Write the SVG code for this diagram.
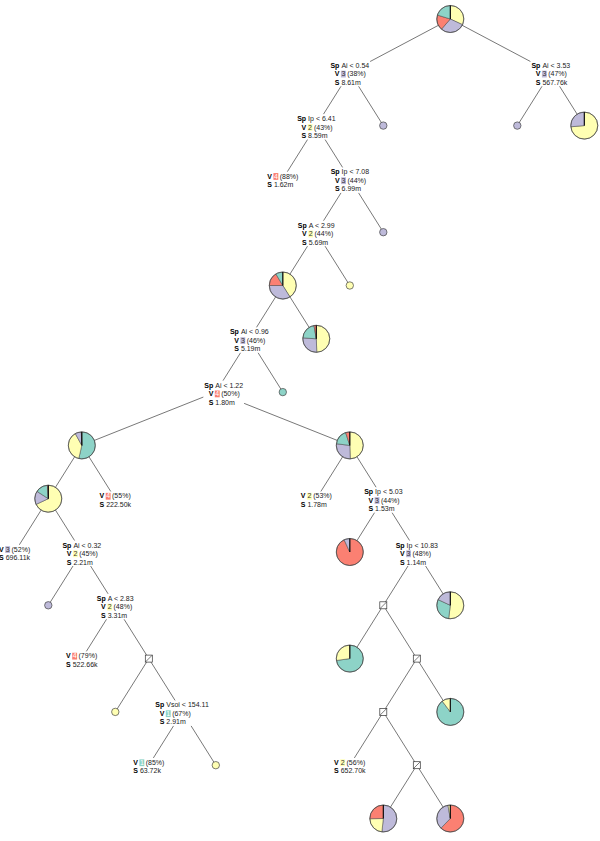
<svg xmlns="http://www.w3.org/2000/svg" width="600" height="841" viewBox="0 0 600 841">
<style>
.e{stroke:#555;stroke-width:0.8;fill:none}
text{font-family:"Liberation Sans",Arial,sans-serif;font-size:7px;fill:#222}
.k{font-weight:bold;text-anchor:end;fill:#000}
.bg{fill:#fff}
.c1{fill:#8dd3c7}.c2{fill:#ffffb3}.c3{fill:#bebada}.c4{fill:#fb8072}
.sl path{stroke:#444;stroke-width:0.5;stroke-linejoin:round}
.ring{fill:none;stroke:#444;stroke-width:0.7}
.top{stroke:#000;stroke-width:1}
.lf{stroke:#444;stroke-width:0.7}
.bx{fill:#fff;stroke:#333;stroke-width:0.7}
.dl{fill:#fff}.dd{fill:#333}
</style>
<g id="connectors">
<path class="e" d="M450.3 19L349.8 72.3M450.3 19L550.8 72.3M349.8 72.3L316.3 125.6M349.8 72.3L383.3 125.6M550.8 72.3L517.3 125.6M550.8 72.3L584.3 125.6M316.3 125.6L282.8 178.9M316.3 125.6L349.8 178.9M349.8 178.9L316.3 232.2M349.8 178.9L383.3 232.2M316.3 232.2L282.8 285.5M316.3 232.2L349.8 285.5M282.8 285.5L249.3 338.8M282.8 285.5L316.3 338.8M249.3 338.8L215.8 392.1M249.3 338.8L282.8 392.1M215.8 392.1L81.8 445.4M215.8 392.1L349.8 445.4M81.8 445.4L48.3 498.7M81.8 445.4L115.3 498.7M48.3 498.7L14.8 552M48.3 498.7L81.8 552M81.8 552L48.3 605.3M81.8 552L115.3 605.3M115.3 605.3L81.8 658.6M115.3 605.3L148.8 658.6M148.8 658.6L115.3 711.9M148.8 658.6L182.3 711.9M182.3 711.9L148.8 765.2M182.3 711.9L215.8 765.2M349.8 445.4L316.3 498.7M349.8 445.4L383.3 498.7M383.3 498.7L349.8 552M383.3 498.7L416.8 552M416.8 552L383.3 605.3M416.8 552L450.3 605.3M383.3 605.3L349.8 658.6M383.3 605.3L416.8 658.6M416.8 658.6L383.3 711.9M416.8 658.6L450.3 711.9M383.3 711.9L349.8 765.2M383.3 711.9L416.8 765.2M416.8 765.2L383.3 818.5M416.8 765.2L450.3 818.5"/>
</g>

<g id="root" class="sl">
<path class="c2" d="M450.3,19 L450.3,5.5 A13.5,13.5 0 0 1 462.54,24.71 Z"/>
<path class="c3" d="M450.3,19 L462.54,24.71 A13.5,13.5 0 0 1 441.44,29.19 Z"/>
<path class="c4" d="M450.3,19 L441.44,29.19 A13.5,13.5 0 0 1 437.39,15.05 Z"/>
<path class="c1" d="M450.3,19 L437.39,15.05 A13.5,13.5 0 0 1 450.3,5.5 Z"/>
<circle class="ring" cx="450.3" cy="19" r="13.5"/><line class="top" x1="450.3" y1="19" x2="450.3" y2="5.5"/>
</g>

<g id="nA">
<rect class="bg" x="329.4" y="60.8" width="40.75" height="25.5"/>
<rect class="c3" x="340.9" y="70.7" width="4.9" height="6.8"/>
<text class="k" x="339.4" y="67.8">Sp</text><text x="341.4" y="67.8">Ai &lt; 0.54</text>
<text class="k" x="339.4" y="76.3">V</text><text x="341.4" y="76.3"><tspan class="dd">3</tspan> (38%)</text>
<text class="k" x="339.4" y="84.8">S</text><text x="341.4" y="84.8">8.61m</text>
</g>

<g id="nAR">
<rect class="bg" x="530.4" y="60.8" width="40.75" height="25.5"/>
<rect class="c3" x="541.9" y="70.7" width="4.9" height="6.8"/>
<text class="k" x="540.4" y="67.8">Sp</text><text x="542.4" y="67.8">Ai &lt; 3.53</text>
<text class="k" x="540.4" y="76.3">V</text><text x="542.4" y="76.3"><tspan class="dd">3</tspan> (47%)</text>
<text class="k" x="540.4" y="84.8">S</text><text x="542.4" y="84.8">567.76k</text>
</g>

<g id="leafA"><circle class="c3 lf" cx="383.3" cy="125.6" r="3.7"/></g>
<g id="leafAR"><circle class="c3 lf" cx="517.3" cy="125.6" r="3.7"/></g>

<g id="pieAR" class="sl">
<path class="c2" d="M584.3,125.6 L584.3,112.1 A13.5,13.5 0 1 1 570.85,126.78 Z"/>
<path class="c3" d="M584.3,125.6 L570.85,126.78 A13.5,13.5 0 0 1 584.3,112.1 Z"/>
<circle class="ring" cx="584.3" cy="125.6" r="13.5"/><line class="top" x1="584.3" y1="125.6" x2="584.3" y2="112.1"/>
</g>

<g id="nB">
<rect class="bg" x="296.1" y="114.1" width="40.4" height="25.5"/>
<rect class="c2" x="307.6" y="124" width="4.9" height="6.8"/>
<text class="k" x="306.1" y="121.1">Sp</text><text x="308.1" y="121.1">Ip &lt; 6.41</text>
<text class="k" x="306.1" y="129.6">V</text><text x="308.1" y="129.6"><tspan class="dd">2</tspan> (43%)</text>
<text class="k" x="306.1" y="138.1">S</text><text x="308.1" y="138.1">8.59m</text>
</g>

<g id="nC">
<rect class="bg" x="266.2" y="171.65" width="33.2" height="17"/>
<rect class="c4" x="273.4" y="173.05" width="4.9" height="6.8"/>
<text class="k" x="271.9" y="178.65">V</text><text x="273.9" y="178.65"><tspan class="dl">4</tspan> (88%)</text>
<text class="k" x="271.9" y="187.15">S</text><text x="273.9" y="187.15">1.62m</text>
</g>

<g id="nD">
<rect class="bg" x="329.6" y="167.4" width="40.4" height="25.5"/>
<rect class="c3" x="341.1" y="177.3" width="4.9" height="6.8"/>
<text class="k" x="339.6" y="174.4">Sp</text><text x="341.6" y="174.4">Ip &lt; 7.08</text>
<text class="k" x="339.6" y="182.9">V</text><text x="341.6" y="182.9"><tspan class="dd">3</tspan> (44%)</text>
<text class="k" x="339.6" y="191.4">S</text><text x="341.6" y="191.4">6.99m</text>
</g>

<g id="leafD"><circle class="c3 lf" cx="383.3" cy="232.2" r="3.7"/></g>

<g id="nE">
<rect class="bg" x="296.7" y="220.7" width="39.2" height="25.5"/>
<rect class="c2" x="308.2" y="230.6" width="4.9" height="6.8"/>
<text class="k" x="306.7" y="227.7">Sp</text><text x="308.7" y="227.7">A &lt; 2.99</text>
<text class="k" x="306.7" y="236.2">V</text><text x="308.7" y="236.2"><tspan class="dd">2</tspan> (44%)</text>
<text class="k" x="306.7" y="244.7">S</text><text x="308.7" y="244.7">5.69m</text>
</g>

<g id="leafE"><circle class="c2 lf" cx="349.8" cy="285.5" r="3.7"/></g>

<g id="pieE" class="sl">
<path class="c2" d="M282.8,285.5 L282.8,272 A13.5,13.5 0 0 1 289.95,296.95 Z"/>
<path class="c3" d="M282.8,285.5 L289.95,296.95 A13.5,13.5 0 0 1 269.3,285.5 Z"/>
<path class="c4" d="M282.8,285.5 L269.3,285.5 A13.5,13.5 0 0 1 275.85,273.93 Z"/>
<path class="c1" d="M282.8,285.5 L275.85,273.93 A13.5,13.5 0 0 1 282.8,272 Z"/>
<circle class="ring" cx="282.8" cy="285.5" r="13.5"/><line class="top" x1="282.8" y1="285.5" x2="282.8" y2="272"/>
</g>

<g id="pieG" class="sl">
<path class="c2" d="M316.3,338.8 L316.3,325.3 A13.5,13.5 0 0 1 316.77,352.29 Z"/>
<path class="c3" d="M316.3,338.8 L316.77,352.29 A13.5,13.5 0 0 1 302.83,337.86 Z"/>
<path class="c1" d="M316.3,338.8 L302.83,337.86 A13.5,13.5 0 0 1 313.96,325.51 Z"/>
<path class="c4" d="M316.3,338.8 L313.96,325.51 A13.5,13.5 0 0 1 316.3,325.3 Z"/>
<circle class="ring" cx="316.3" cy="338.8" r="13.5"/><line class="top" x1="316.3" y1="338.8" x2="316.3" y2="325.3"/>
</g>

<g id="nF">
<rect class="bg" x="228.9" y="327.3" width="40.75" height="25.5"/>
<rect class="c3" x="240.4" y="337.2" width="4.9" height="6.8"/>
<text class="k" x="238.9" y="334.3">Sp</text><text x="240.9" y="334.3">Ai &lt; 0.96</text>
<text class="k" x="238.9" y="342.8">V</text><text x="240.9" y="342.8"><tspan class="dd">3</tspan> (46%)</text>
<text class="k" x="238.9" y="351.3">S</text><text x="240.9" y="351.3">5.19m</text>
</g>

<g id="leafF"><circle class="c1 lf" cx="282.8" cy="392.1" r="3.7"/></g>

<g id="nH">
<rect class="bg" x="203.35" y="380.6" width="40.75" height="25.5"/>
<rect class="c4" x="214.8" y="390.5" width="4.9" height="6.8"/>
<text class="k" x="213.3" y="387.6">Sp</text><text x="215.3" y="387.6">Ai &lt; 1.22</text>
<text class="k" x="213.3" y="396.1">V</text><text x="215.3" y="396.1"><tspan class="dl">4</tspan> (50%)</text>
<text class="k" x="213.3" y="404.6">S</text><text x="215.3" y="404.6">1.80m</text>
</g>

<g id="pieHL" class="sl">
<path class="c1" d="M81.8,445.4 L81.8,431.9 A13.5,13.5 0 1 1 78.76,458.55 Z"/>
<path class="c2" d="M81.8,445.4 L78.76,458.55 A13.5,13.5 0 0 1 75.26,433.59 Z"/>
<path class="c3" d="M81.8,445.4 L75.26,433.59 A13.5,13.5 0 0 1 81.33,431.91 Z"/>
<path class="c4" d="M81.8,445.4 L81.33,431.91 A13.5,13.5 0 0 1 81.8,431.9 Z"/>
<circle class="ring" cx="81.8" cy="445.4" r="13.5"/><line class="top" x1="81.8" y1="445.4" x2="81.8" y2="431.9"/>
</g>

<g id="pieHR" class="sl">
<path class="c2" d="M349.8,445.4 L349.8,431.9 A13.5,13.5 0 0 1 350.27,458.89 Z"/>
<path class="c3" d="M349.8,445.4 L350.27,458.89 A13.5,13.5 0 0 1 336.4,443.76 Z"/>
<path class="c1" d="M349.8,445.4 L336.4,443.76 A13.5,13.5 0 0 1 345.63,432.56 Z"/>
<path class="c4" d="M349.8,445.4 L345.63,432.56 A13.5,13.5 0 0 1 349.8,431.9 Z"/>
<circle class="ring" cx="349.8" cy="445.4" r="13.5"/><line class="top" x1="349.8" y1="445.4" x2="349.8" y2="431.9"/>
</g>

<g id="pieL2" class="sl">
<path class="c2" d="M48.3,498.7 L48.3,485.2 A13.5,13.5 0 1 1 36.07,504.41 Z"/>
<path class="c3" d="M48.3,498.7 L36.07,504.41 A13.5,13.5 0 0 1 36.98,491.35 Z"/>
<path class="c1" d="M48.3,498.7 L36.98,491.35 A13.5,13.5 0 0 1 47.36,485.23 Z"/>
<path class="c4" d="M48.3,498.7 L47.36,485.23 A13.5,13.5 0 0 1 48.3,485.2 Z"/>
<circle class="ring" cx="48.3" cy="498.7" r="13.5"/><line class="top" x1="48.3" y1="498.7" x2="48.3" y2="485.2"/>
</g>

<g id="nI">
<rect class="bg" x="98.5" y="491.45" width="33.6" height="17"/>
<rect class="c4" x="105.7" y="492.85" width="4.9" height="6.8"/>
<text class="k" x="104.2" y="498.45">V</text><text x="106.2" y="498.45"><tspan class="dl">4</tspan> (55%)</text>
<text class="k" x="104.2" y="506.95">S</text><text x="106.2" y="506.95">222.50k</text>
</g>

<g id="nJ">
<rect class="bg" x="-2" y="544.75" width="33.6" height="17"/>
<rect class="c3" x="5.2" y="546.15" width="4.9" height="6.8"/>
<text class="k" x="3.7" y="551.75">V</text><text x="5.7" y="551.75"><tspan class="dd">3</tspan> (52%)</text>
<text class="k" x="3.7" y="560.25">S</text><text x="5.7" y="560.25">696.11k</text>
</g>

<g id="nK">
<rect class="bg" x="61.4" y="540.5" width="40.75" height="25.5"/>
<rect class="c2" x="72.9" y="550.4" width="4.9" height="6.8"/>
<text class="k" x="71.4" y="547.5">Sp</text><text x="73.4" y="547.5">Ai &lt; 0.32</text>
<text class="k" x="71.4" y="556">V</text><text x="73.4" y="556"><tspan class="dd">2</tspan> (45%)</text>
<text class="k" x="71.4" y="564.5">S</text><text x="73.4" y="564.5">2.21m</text>
</g>

<g id="leafK"><circle class="c3 lf" cx="48.3" cy="605.3" r="3.7"/></g>

<g id="nL">
<rect class="bg" x="95.7" y="593.8" width="39.2" height="25.5"/>
<rect class="c2" x="107.2" y="603.7" width="4.9" height="6.8"/>
<text class="k" x="105.7" y="600.8">Sp</text><text x="107.7" y="600.8">A &lt; 2.83</text>
<text class="k" x="105.7" y="609.3">V</text><text x="107.7" y="609.3"><tspan class="dd">2</tspan> (48%)</text>
<text class="k" x="105.7" y="617.8">S</text><text x="107.7" y="617.8">3.31m</text>
</g>

<g id="nM">
<rect class="bg" x="65" y="651.35" width="33.6" height="17"/>
<rect class="c4" x="72.2" y="652.75" width="4.9" height="6.8"/>
<text class="k" x="70.7" y="658.35">V</text><text x="72.7" y="658.35"><tspan class="dl">4</tspan> (79%)</text>
<text class="k" x="70.7" y="666.85">S</text><text x="72.7" y="666.85">522.66k</text>
</g>

<g id="boxL"><rect class="bx" x="145.3" y="655.1" width="7" height="7"/><line class="lf" x1="145.3" y1="662.1" x2="152.3" y2="655.1"/></g>

<g id="leafBL"><circle class="c2 lf" cx="115.3" cy="711.9" r="3.7"/></g>

<g id="nN">
<rect class="bg" x="154.3" y="700.4" width="55.95" height="25.5"/>
<rect class="c1" x="165.8" y="710.3" width="4.9" height="6.8"/>
<text class="k" x="164.3" y="707.4">Sp</text><text x="166.3" y="707.4">Vsoi &lt; 154.11</text>
<text class="k" x="164.3" y="715.9">V</text><text x="166.3" y="715.9"><tspan class="dl">1</tspan> (67%)</text>
<text class="k" x="164.3" y="724.4">S</text><text x="166.3" y="724.4">2.91m</text>
</g>

<g id="nO">
<rect class="bg" x="132.2" y="757.95" width="33.2" height="17"/>
<rect class="c1" x="139.4" y="759.35" width="4.9" height="6.8"/>
<text class="k" x="137.9" y="764.95">V</text><text x="139.9" y="764.95"><tspan class="dl">1</tspan> (85%)</text>
<text class="k" x="137.9" y="773.45">S</text><text x="139.9" y="773.45">63.72k</text>
</g>

<g id="leafN"><circle class="c2 lf" cx="215.8" cy="765.2" r="3.7"/></g>

<g id="nP">
<rect class="bg" x="299.7" y="491.45" width="33.2" height="17"/>
<rect class="c2" x="306.9" y="492.85" width="4.9" height="6.8"/>
<text class="k" x="305.4" y="498.45">V</text><text x="307.4" y="498.45"><tspan class="dd">2</tspan> (53%)</text>
<text class="k" x="305.4" y="506.95">S</text><text x="307.4" y="506.95">1.78m</text>
</g>

<g id="nQ">
<rect class="bg" x="363.1" y="487.2" width="40.4" height="25.5"/>
<rect class="c3" x="374.6" y="497.1" width="4.9" height="6.8"/>
<text class="k" x="373.1" y="494.2">Sp</text><text x="375.1" y="494.2">Ip &lt; 5.03</text>
<text class="k" x="373.1" y="502.7">V</text><text x="375.1" y="502.7"><tspan class="dd">3</tspan> (44%)</text>
<text class="k" x="373.1" y="511.2">S</text><text x="375.1" y="511.2">1.53m</text>
</g>

<g id="pieQ" class="sl">
<path class="c4" d="M349.8,552 L349.8,538.5 A13.5,13.5 0 1 1 344.1,539.77 Z"/>
<path class="c3" d="M349.8,552 L344.1,539.77 A13.5,13.5 0 0 1 349.8,538.5 Z"/>
<circle class="ring" cx="349.8" cy="552" r="13.5"/><line class="top" x1="349.8" y1="552" x2="349.8" y2="538.5"/>
</g>

<g id="nR">
<rect class="bg" x="394.65" y="540.5" width="44.3" height="25.5"/>
<rect class="c3" x="406.1" y="550.4" width="4.9" height="6.8"/>
<text class="k" x="404.6" y="547.5">Sp</text><text x="406.6" y="547.5">Ip &lt; 10.83</text>
<text class="k" x="404.6" y="556">V</text><text x="406.6" y="556"><tspan class="dd">3</tspan> (48%)</text>
<text class="k" x="404.6" y="564.5">S</text><text x="406.6" y="564.5">1.14m</text>
</g>

<g id="box1"><rect class="bx" x="379.8" y="601.8" width="7" height="7"/><line class="lf" x1="379.8" y1="608.8" x2="386.8" y2="601.8"/></g>

<g id="pieR" class="sl">
<path class="c2" d="M450.3,605.3 L450.3,591.8 A13.5,13.5 0 1 1 448.66,618.7 Z"/>
<path class="c1" d="M450.3,605.3 L448.66,618.7 A13.5,13.5 0 0 1 438.07,599.6 Z"/>
<path class="c3" d="M450.3,605.3 L438.07,599.6 A13.5,13.5 0 0 1 450.3,591.8 Z"/>
<circle class="ring" cx="450.3" cy="605.3" r="13.5"/><line class="top" x1="450.3" y1="605.3" x2="450.3" y2="591.8"/>
</g>

<g id="pieB1" class="sl">
<path class="c1" d="M349.8,658.6 L349.8,645.1 A13.5,13.5 0 1 1 336.43,660.48 Z"/>
<path class="c2" d="M349.8,658.6 L336.43,660.48 A13.5,13.5 0 0 1 349.8,645.1 Z"/>
<circle class="ring" cx="349.8" cy="658.6" r="13.5"/><line class="top" x1="349.8" y1="658.6" x2="349.8" y2="645.1"/>
</g>

<g id="box2"><rect class="bx" x="413.3" y="655.1" width="7" height="7"/><line class="lf" x1="413.3" y1="662.1" x2="420.3" y2="655.1"/></g>

<g id="box3"><rect class="bx" x="379.8" y="708.4" width="7" height="7"/><line class="lf" x1="379.8" y1="715.4" x2="386.8" y2="708.4"/></g>

<g id="pieB2" class="sl">
<path class="c1" d="M450.3,711.9 L450.3,698.4 A13.5,13.5 0 1 1 442.18,701.12 Z"/>
<path class="c2" d="M450.3,711.9 L442.18,701.12 A13.5,13.5 0 0 1 450.3,698.4 Z"/>
<circle class="ring" cx="450.3" cy="711.9" r="13.5"/><line class="top" x1="450.3" y1="711.9" x2="450.3" y2="698.4"/>
</g>

<g id="nS">
<rect class="bg" x="333" y="757.95" width="33.6" height="17"/>
<rect class="c2" x="340.2" y="759.35" width="4.9" height="6.8"/>
<text class="k" x="338.7" y="764.95">V</text><text x="340.7" y="764.95"><tspan class="dd">2</tspan> (56%)</text>
<text class="k" x="338.7" y="773.45">S</text><text x="340.7" y="773.45">652.70k</text>
</g>

<g id="box4"><rect class="bx" x="413.3" y="761.7" width="7" height="7"/><line class="lf" x1="413.3" y1="768.7" x2="420.3" y2="761.7"/></g>

<g id="pieB4L" class="sl">
<path class="c3" d="M383.3,818.5 L383.3,805 A13.5,13.5 0 1 1 381.89,831.93 Z"/>
<path class="c2" d="M383.3,818.5 L381.89,831.93 A13.5,13.5 0 0 1 369.8,818.74 Z"/>
<path class="c4" d="M383.3,818.5 L369.8,818.74 A13.5,13.5 0 0 1 383.3,805 Z"/>
<circle class="ring" cx="383.3" cy="818.5" r="13.5"/><line class="top" x1="383.3" y1="818.5" x2="383.3" y2="805"/>
</g>

<g id="pieB4R" class="sl">
<path class="c4" d="M450.3,818.5 L450.3,805 A13.5,13.5 0 1 1 440.92,828.21 Z"/>
<path class="c3" d="M450.3,818.5 L440.92,828.21 A13.5,13.5 0 0 1 447.96,805.21 Z"/>
<path class="c2" d="M450.3,818.5 L447.96,805.21 A13.5,13.5 0 0 1 450.3,805 Z"/>
<circle class="ring" cx="450.3" cy="818.5" r="13.5"/><line class="top" x1="450.3" y1="818.5" x2="450.3" y2="805"/>
</g>
</svg>
